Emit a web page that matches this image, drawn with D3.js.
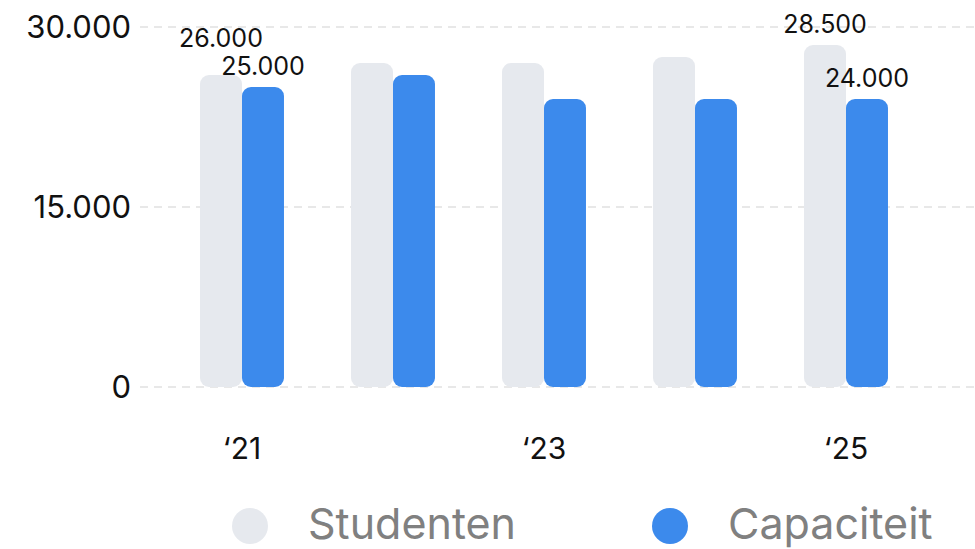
<!DOCTYPE html>
<html>
<head>
<meta charset="utf-8">
<script src="https://cdn.jsdelivr.net/npm/d3@7"></script>
<style>
  html, body { margin: 0; padding: 0; background: #fff; }
  svg { display: block; font-family: Inter, 'Noto Sans', sans-serif; }
</style>
</head>
<body>
<div id="chart"></div>
<script>
(function () {
  'use strict';

  /* ---------- Data ---------- */
  const years      = ['2021', '2022', '2023', '2024', '2025'];
  const yearLabels = ['\u201821', '', '\u201823', '', '\u201825'];
  const studenten  = [26000, 27000, 27000, 27500, 28500];
  const capaciteit = [25000, 26000, 24000, 24000, 24000];
  const showValue  = [true, false, false, false, true];
  const series     = ['Studenten', 'Capaciteit'];
  const yTicks     = [0, 15000, 30000];

  /* ---------- Colours ---------- */
  const colors = { Studenten: '#e6e9ee', Capaciteit: '#3c8aec' };
  const LIFT = 12, LINE = 28;

  const W = 975, H = 549;
  const fmt = v => d3.format(',')(v).replace(/,/g, '.');

  const svg = d3.select('#chart').append('svg')
    .attr('width', W).attr('height', H);

  /* ---------- Scales ---------- */
  const x = d3.scaleBand().domain(years).range([166.5, 921.5])
    .paddingInner(0.444).paddingOuter(0.222);
  const x1 = d3.scaleBand().domain(series).range([0, x.bandwidth()]);
  const y = d3.scaleLinear().domain([0, 30000]).range([387, 27]);

  // Grid lines
  svg.append('g').selectAll('line')
    .data(yTicks)
    .join('line')
    .attr('x1', 140).attr('x2', W)
    .attr('y1', d => y(d)).attr('y2', d => y(d))
    .attr('stroke', '#d2d2d2')
    .attr('stroke-width', 1.2)
    .attr('stroke-dasharray', '8,6');

  // Y labels
  svg.append('g').selectAll('text')
    .data(yTicks)
    .join('text')
    .attr('x', 131)
    .attr('y', d => y(d))
    .attr('dy', '0.36em')
    .attr('text-anchor', 'end')
    .attr('font-size', '31px')
    .attr('fill', '#111')
    .text(d => fmt(d));

  /* ---------- Bars ---------- */
  const rows = years.map((yr, i) => {
    const capY = y(capaciteit[i]) - LIFT;
    // studenten label sits above its bar, pushed up if it would hit the capaciteit label
    const stuY = Math.min(y(studenten[i]) - LIFT, capY - LINE);
    return {
      year: yr,
      show: showValue[i],
      vals: [
        { key: 'Studenten', value: studenten[i], ly: stuY },
        { key: 'Capaciteit', value: capaciteit[i], ly: capY }
      ]
    };
  });

  const groups = svg.append('g').selectAll('g')
    .data(rows)
    .join('g')
    .attr('transform', d => `translate(${x(d.year)},0)`);

  groups.selectAll('rect')
    .data(d => d.vals)
    .join('rect')
    .attr('x', d => x1(d.key))
    .attr('width', x1.bandwidth())
    .attr('y', d => y(d.value))
    .attr('height', d => y(0) - y(d.value))
    .attr('rx', 9)
    .attr('fill', d => colors[d.key]);

  // Value labels (first and last year only)
  groups.filter(d => d.show).selectAll('text')
    .data(d => d.vals)
    .join('text')
    .attr('x', d => x1(d.key) + x1.bandwidth() / 2)
    .attr('y', d => d.ly)
    .attr('text-anchor', 'middle')
    .attr('font-size', '25px')
    .attr('fill', '#111')
    .text(d => fmt(d.value));

  // X labels
  svg.append('g').selectAll('text')
    .data(years)
    .join('text')
    .attr('x', d => x(d) + x.bandwidth() / 2)
    .attr('y', 459)
    .attr('text-anchor', 'middle')
    .attr('font-size', '30px')
    .attr('fill', '#111')
    .text((d, i) => yearLabels[i]);

  /* ---------- Legend ---------- */
  const legendX = [250, 670];
  const legend = svg.append('g').selectAll('g')
    .data(series)
    .join('g')
    .attr('transform', (d, i) => `translate(${legendX[i]},526)`);

  legend.append('circle')
    .attr('r', 18)
    .attr('fill', d => colors[d]);

  legend.append('text')
    .attr('x', 58)
    .attr('y', 13)
    .attr('font-size', '43px')
    .attr('fill', '#808080')
    .text(d => d);
})();
</script>
</body>
</html>
